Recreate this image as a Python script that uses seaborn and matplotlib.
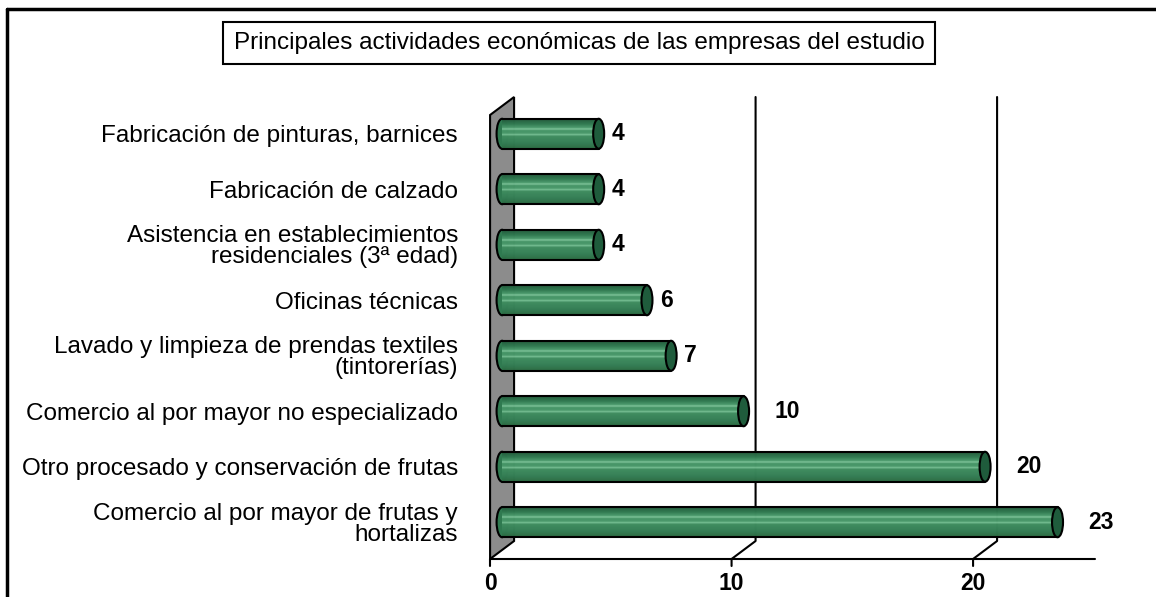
import numpy as np
import pandas as pd
import matplotlib.pyplot as plt
import seaborn as sns
from matplotlib import font_manager
from matplotlib.patches import Polygon, Ellipse
from matplotlib.colors import LinearSegmentedColormap
from matplotlib.lines import Line2D
from matplotlib.transforms import ScaledTranslation

# Data
actividades = [
    "Fabricación de pinturas, barnices",
    "Fabricación de calzado",
    "Asistencia en establecimientos\nresidenciales (3ª edad)",
    "Oficinas técnicas",
    "Lavado y limpieza de prendas textiles\n(tintorerías)",
    "Comercio al por mayor no especializado",
    "Otro procesado y conservación de frutas",
    "Comercio al por mayor de frutas y\nhortalizas",
]
empresas = [4, 4, 4, 6, 7, 10, 20, 23]
x_ticks = [0, 10, 20]
titulo = "Principales actividades económicas de las empresas del estudio"

df = pd.DataFrame({"actividad": actividades, "empresas": empresas})

sns.set_style("white")
plt.rcParams["font.family"] = ["Liberation Sans", "DejaVu Sans"]
plt.rcParams["text.color"] = "black"
plt.rcParams["xtick.color"] = "black"
plt.rcParams["ytick.color"] = "black"

FS = 17.5

# bold font: make sure the regular-width Liberation Sans Bold is used
bold_file = None
for f in font_manager.fontManager.ttflist:
    if f.name == "Liberation Sans" and f.weight in (700, "bold") and f.style == "normal" \
            and "Narrow" not in f.fname:
        bold_file = f.fname
        break
if bold_file:
    bold_fp = font_manager.FontProperties(fname=bold_file, size=FS - 1)
else:
    bold_fp = font_manager.FontProperties(family="DejaVu Sans", weight="bold", size=FS - 2)

body_green = "#3a8c5c"
cap_green = "#1f5c3c"
wall_gray = "#8c8c8c"

# fake 3D depth, in data units (half depth)
DX = 0.497
DY = 0.162

fig = plt.figure(figsize=(11.56, 5.97), dpi=100)
ax = fig.add_axes([490 / 1156, 47 / 597, 611 / 1156, 444 / 597])

sns.barplot(data=df, x="empresas", y="actividad", orient="h", color=body_green,
            width=0.54, linewidth=0, alpha=0.9, ax=ax, zorder=3)
bars = list(ax.patches)

for s in ax.spines.values():
    s.set_visible(False)
ax.set_xlabel("")
ax.set_ylabel("")

# left wall
wall = Polygon([(-DX, 7.5 + DY), (-DX, -0.5 + DY), (DX, -0.5 - DY), (DX, 7.5 - DY)],
               closed=True, facecolor=wall_gray, edgecolor="black", lw=1.5,
               zorder=1, clip_on=False)
ax.add_patch(wall)

# floor line and gridlines with perspective
tick_len = 7 / 55.43
ax.plot([-DX, 25.05 - DX], [7.5 + DY] * 2, color="black", lw=1.5, clip_on=False, zorder=1)
ax.plot([-DX, -DX], [7.5 + DY, 7.5 + DY + tick_len], color="black", lw=1.5, clip_on=False)
for g in x_ticks[1:]:
    ax.plot([g + DX, g + DX, g - DX, g - DX],
            [-0.5 - DY, 7.5 - DY, 7.5 + DY, 7.5 + DY + tick_len],
            color="black", lw=1.5, clip_on=False, zorder=1)

# cylinder shading
shade = LinearSegmentedColormap.from_list("cyl", [
    (0.0, "#225a3b"), (0.15, "#2c764d"), (0.28, "#4c9c6d"), (0.33, "#86cda2"),
    (0.38, "#459667"), (0.47, "#4a9a6b"), (0.52, "#80c89c"), (0.57, "#3f8e60"),
    (0.8, "#337e54"), (1.0, "#28683f")])
grad = np.linspace(0, 1, 60).reshape(-1, 1)
cap_w = 11 / 24.15
for p in bars:
    x0, y0, w, h = p.get_x(), p.get_y(), p.get_width(), p.get_height()
    yc = y0 + h / 2
    ax.add_patch(Ellipse((x0, yc), cap_w, h, facecolor="#2f7a50", edgecolor="black",
                         lw=1.5, zorder=2.5))
    im = ax.imshow(grad, cmap=shade, extent=(x0, x0 + w, y0 + h, y0), aspect="auto",
                   origin="upper", alpha=0.9, zorder=3.5)
    im.set_clip_path(p)
    ax.plot([x0, x0 + w], [y0, y0], color="black", lw=1.5, zorder=4)
    ax.plot([x0, x0 + w], [y0 + h, y0 + h], color="black", lw=1.5, zorder=4)
    ax.add_patch(Ellipse((x0 + w, yc), cap_w, h, facecolor=cap_green, edgecolor="black",
                         lw=1.5, zorder=5))
ax.set_xlim(-0.5, 24.8)
ax.set_ylim(7.5, -0.5)

# value labels
for i, v in enumerate(empresas):
    ax.text(v + (0.8 if v < 10 else 1.8), i, str(v), ha="center", va="center",
            fontproperties=bold_fp, zorder=6)

# axes ticks
ax.set_xticks(x_ticks)
ax.set_xticklabels([str(t) for t in x_ticks], fontproperties=bold_fp)
ax.tick_params(axis="both", length=0)
ax.tick_params(axis="x", pad=16)
ax.tick_params(axis="y", pad=23)
for lab in ax.get_xticklabels():
    lab.set_transform(lab.get_transform() + ScaledTranslation(-0.12, 0, fig.dpi_scale_trans))
for lab in ax.get_yticklabels():
    lab.set_fontsize(FS)
    lab.set_linespacing(0.95)

# title in a box
fig.text(579 / 1156, 1 - 43 / 597, titulo, ha="center", va="center", fontsize=FS,
         bbox=dict(boxstyle="square,pad=0.42", facecolor="white", edgecolor="black", lw=1.5))

# outer frame (top and left edges)
fig.add_artist(Line2D([7 / 1156, 1], [1 - 9 / 597, 1 - 9 / 597], color="black", lw=2.5))
fig.add_artist(Line2D([7 / 1156, 7 / 1156], [0, 1 - 9 / 597], color="black", lw=2.5))

fig.savefig("out.png", dpi=100)
